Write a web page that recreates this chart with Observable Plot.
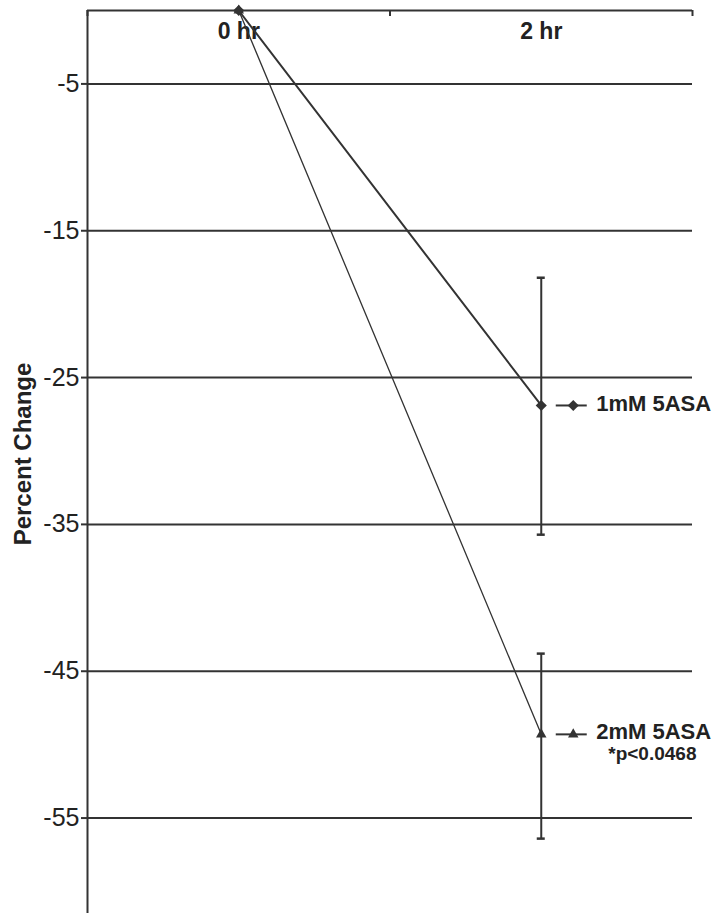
<!DOCTYPE html>
<html>
<head>
<meta charset="utf-8">
<script src="https://cdn.jsdelivr.net/npm/d3@7"></script>
<script src="https://cdn.jsdelivr.net/npm/@observablehq/plot@0.6"></script>
<style>
  html, body { margin: 0; padding: 0; background: #fff; }
  #chart svg { font-family: "Liberation Sans", Arial, sans-serif; display: block; overflow: visible; }
</style>
</head>
<body>
<div id="chart"></div>
<script>
// ---- data ----
const hours = ["0 hr", "2 hr"];
const seriesNames = ["1mM 5ASA", "2mM 5ASA"];
const values1mM = [0, -26.9];
const values2mM = [0, -49.3];
const errHigh2hr = [-18.2, -43.8];   // upper end of error bar at 2 hr, per series
const errLow2hr = [-35.7, -56.4];    // lower end of error bar at 2 hr, per series
const yTicks = [-5, -15, -25, -35, -45, -55];
const yLabel = "Percent Change";
const note = "*p<0.0468";
const symbols = ["diamond2", "triangle2"];

// ---- build tables ----
const seriesValues = [values1mM, values2mM];
const rows = [];
seriesNames.forEach((s, k) => hours.forEach((h, i) => rows.push({series: s, k, hour: h, pos: i + 0.5, value: seriesValues[k][i]})));
const last = seriesNames.map((s, k) => ({series: s, k, pos: hours.length - 0.5, value: seriesValues[k][hours.length - 1], hi: errHigh2hr[k], lo: errLow2hr[k]}));
const ink = "#333";

const chart = Plot.plot({
  width: 719,
  height: 913,
  marginTop: 10,
  marginBottom: 0,
  marginLeft: 87,
  marginRight: 27,
  x: {type: "linear", domain: [0, hours.length], axis: null},
  y: {domain: [-61.5, 0], axis: null},
  marks: [
    // gridlines
    Plot.ruleY(yTicks, {stroke: ink, strokeWidth: 2}),
    // top axis line and left axis line
    Plot.ruleY([0], {stroke: ink, strokeWidth: 2}),
    Plot.ruleX([0], {stroke: ink, strokeWidth: 2}),
    // category boundary ticks pointing down from top axis
    Plot.ruleX(d3.range(0, hours.length + 1), {y1: 0, y2: 0, insetBottom: -6, stroke: ink, strokeWidth: 2}),
    // y axis ticks & labels
    Plot.axisY(yTicks, {tickSize: 6, tickPadding: 2, fontSize: 25, stroke: ink, strokeWidth: 2, fill: "#222", tickFormat: d => String(d), label: null}),
    // y axis title
    Plot.text([yLabel], {frameAnchor: "left", dx: -64, dy: -8, rotate: -90, textAnchor: "middle", lineAnchor: "middle", fontSize: 24, fontWeight: "bold", fill: "#222"}),
    // category labels
    Plot.text(hours, {x: (d, i) => i + 0.5, frameAnchor: "top", dy: 21, lineAnchor: "middle", fontSize: 23, fontWeight: "bold", fill: "#222"}),
    // error bars
    Plot.ruleX(last, {x: "pos", y1: "lo", y2: "hi", stroke: ink, strokeWidth: 2}),
    Plot.ruleY(last, {y: "hi", x1: "pos", x2: "pos", insetLeft: -4, insetRight: -4, stroke: ink, strokeWidth: 2.5}),
    Plot.ruleY(last, {y: "lo", x1: "pos", x2: "pos", insetLeft: -4, insetRight: -4, stroke: ink, strokeWidth: 2.5}),
    // series lines
    Plot.line(rows.filter(d => d.k === 0), {x: "pos", y: "value", stroke: ink, strokeWidth: 2}),
    Plot.line(rows.filter(d => d.k === 1), {x: "pos", y: "value", stroke: ink, strokeWidth: 1.3}),
    // markers
    Plot.dot(rows, {x: "pos", y: "value", symbol: d => symbols[d.k], r: 5, fill: ink, stroke: "none"}),
    // legend entries beside final points
    Plot.ruleY(last, {y: "value", x1: "pos", x2: "pos", insetLeft: 15, insetRight: -46, stroke: ink, strokeWidth: 2}),
    Plot.dot(last, {x: "pos", y: "value", dx: 32, symbol: d => symbols[d.k], r: 5, fill: ink, stroke: "none"}),
    Plot.text(last, {x: "pos", y: "value", text: "series", dx: 55, dy: -2, textAnchor: "start", lineAnchor: "middle", fontSize: 22, fontWeight: "bold", fill: "#222"}),
    Plot.text(last.filter(d => d.k === 1), {x: "pos", y: "value", text: () => note, dx: 67, dy: 20, textAnchor: "start", lineAnchor: "middle", fontSize: 19, fontWeight: "bold", fill: "#222"})
  ]
});
document.getElementById("chart").appendChild(chart);
</script>
</body>
</html>
